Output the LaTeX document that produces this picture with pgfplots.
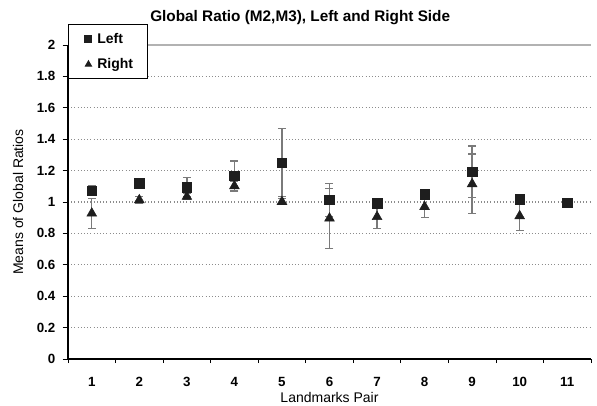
\documentclass[border=0pt]{standalone}
\usepackage{pgfplots}
\pgfplotsset{compat=1.18}
\usepackage{fontspec}
\setmainfont{Liberation Sans}
\definecolor{mk}{HTML}{1E1E1E}
\definecolor{eb}{HTML}{7A7A7A}
\definecolor{gridc}{HTML}{8C8C8C}
\begin{document}
\begin{tikzpicture}
\useasboundingbox (-51pt,-34.5pt) rectangle (396.75pt,269.25pt);
\begin{axis}[
  at={(0,0)}, anchor=south west,
  scale only axis, width=392.25pt, height=235.5pt,
  xmin=0.5, xmax=11.5, ymin=0, ymax=2,
  axis x line*=bottom, axis y line*=left,
  axis line style={black, line width=0.8pt, -},
  xtick={1,...,11},
  major x tick style={draw=none},
  minor xtick={0.5,1.5,...,11.5},
  minor x tick style={black, line width=0.6pt},
  minor tick length=3pt,
  ytick={0,0.2,...,2.01},
  yticklabels={0,0.2,0.4,0.6,0.8,1,1.2,1.4,1.6,1.8,2},
  tick align=outside,
  major tick length=4pt,
  y tick style={black, line width=0.6pt},
  ymajorgrids,
  major grid style={gridc, dotted, line width=0.8pt},
  /pgf/number format/assume math mode=true,
  tick label style={font=\fontsize{10}{12}\selectfont\bfseries},
  xticklabel style={yshift=-6pt},
  yticklabel style={xshift=-2pt},
  title={Global Ratio (M2,M3), Left and Right Side},
  title style={at={(0.444,1)}, anchor=center, yshift=14.5pt, font=\fontsize{11.5}{13}\selectfont\bfseries},
  xlabel={Landmarks Pair},
  xlabel style={at={([yshift=-29pt]rel axis cs:0.5,0)}, anchor=center, font=\fontsize{10.5}{12}\selectfont},
  ylabel={Means of Global Ratios},
  ylabel style={at={([xshift=-37.5pt]rel axis cs:0,0.5)}, anchor=center, rotate=0, font=\fontsize{10.5}{12}\selectfont},
  legend style={at={(0,1)}, anchor=north west, yshift=15.5pt, draw=black, line width=0.8pt, fill=white,
    font=\fontsize{10.5}{12}\selectfont\bfseries, inner xsep=6pt, inner ysep=4pt, row sep=6pt,
    minimum width=0pt},
  legend cell align=left,
  legend image code/.code={\draw[#1, mark size=2.6pt] plot coordinates {(0.3cm,0cm)}; \path (0,0) (0.45cm,0);},
  clip=false,
]
\addplot[only marks, mark=square*, mark size=3.6pt, mark options={fill=mk, draw=mk},
  error bars/.cd, y dir=both, y explicit,
  error bar style={eb, line width=1pt},
  error mark options={rotate=90, mark size=3pt, eb, line width=1pt}]
  coordinates {
  (1,1.072) +- (0,0.03)
  (2,1.119) +- (0,0.03)
  (3,1.094) +- (0,0.063)
  (4,1.166) +- (0,0.095)
  (5,1.250) +- (0,0.217)
  (6,1.013) +- (0,0.106)
  (7,0.992) +- (0,0.03)
  (8,1.049) +- (0,0.02)
  (9,1.193) +- (0,0.164)
  (10,1.017) +- (0,0.02)
  (11,0.996) +- (0,0)
};
\addlegendentry{Left}
\addplot[only marks, mark=triangle*, mark size=4.2pt, mark options={fill=mk, draw=mk},
  error bars/.cd, y dir=both, y explicit,
  error bar style={eb, line width=1pt},
  error mark options={rotate=90, mark size=3pt, eb, line width=1pt}]
  coordinates {
  (1,0.928) +- (0,0.096)
  (2,1.013) +- (0,0.02)
  (3,1.034) +- (0,0.02)
  (4,1.102) +- (0,0.03)
  (5,1.002) +- (0,0.02)
  (6,0.896) +- (0,0.191)
  (7,0.906) +- (0,0.074)
  (8,0.970) +- (0,0.068)
  (9,1.115) +- (0,0.19)
  (10,0.911) +- (0,0.094)
};
\addlegendentry{Right\hspace*{2.5pt}}
\draw[gray!60, line width=0.9pt] (rel axis cs:0,1) -- (rel axis cs:1,1);
\end{axis}
\end{tikzpicture}
\end{document}
